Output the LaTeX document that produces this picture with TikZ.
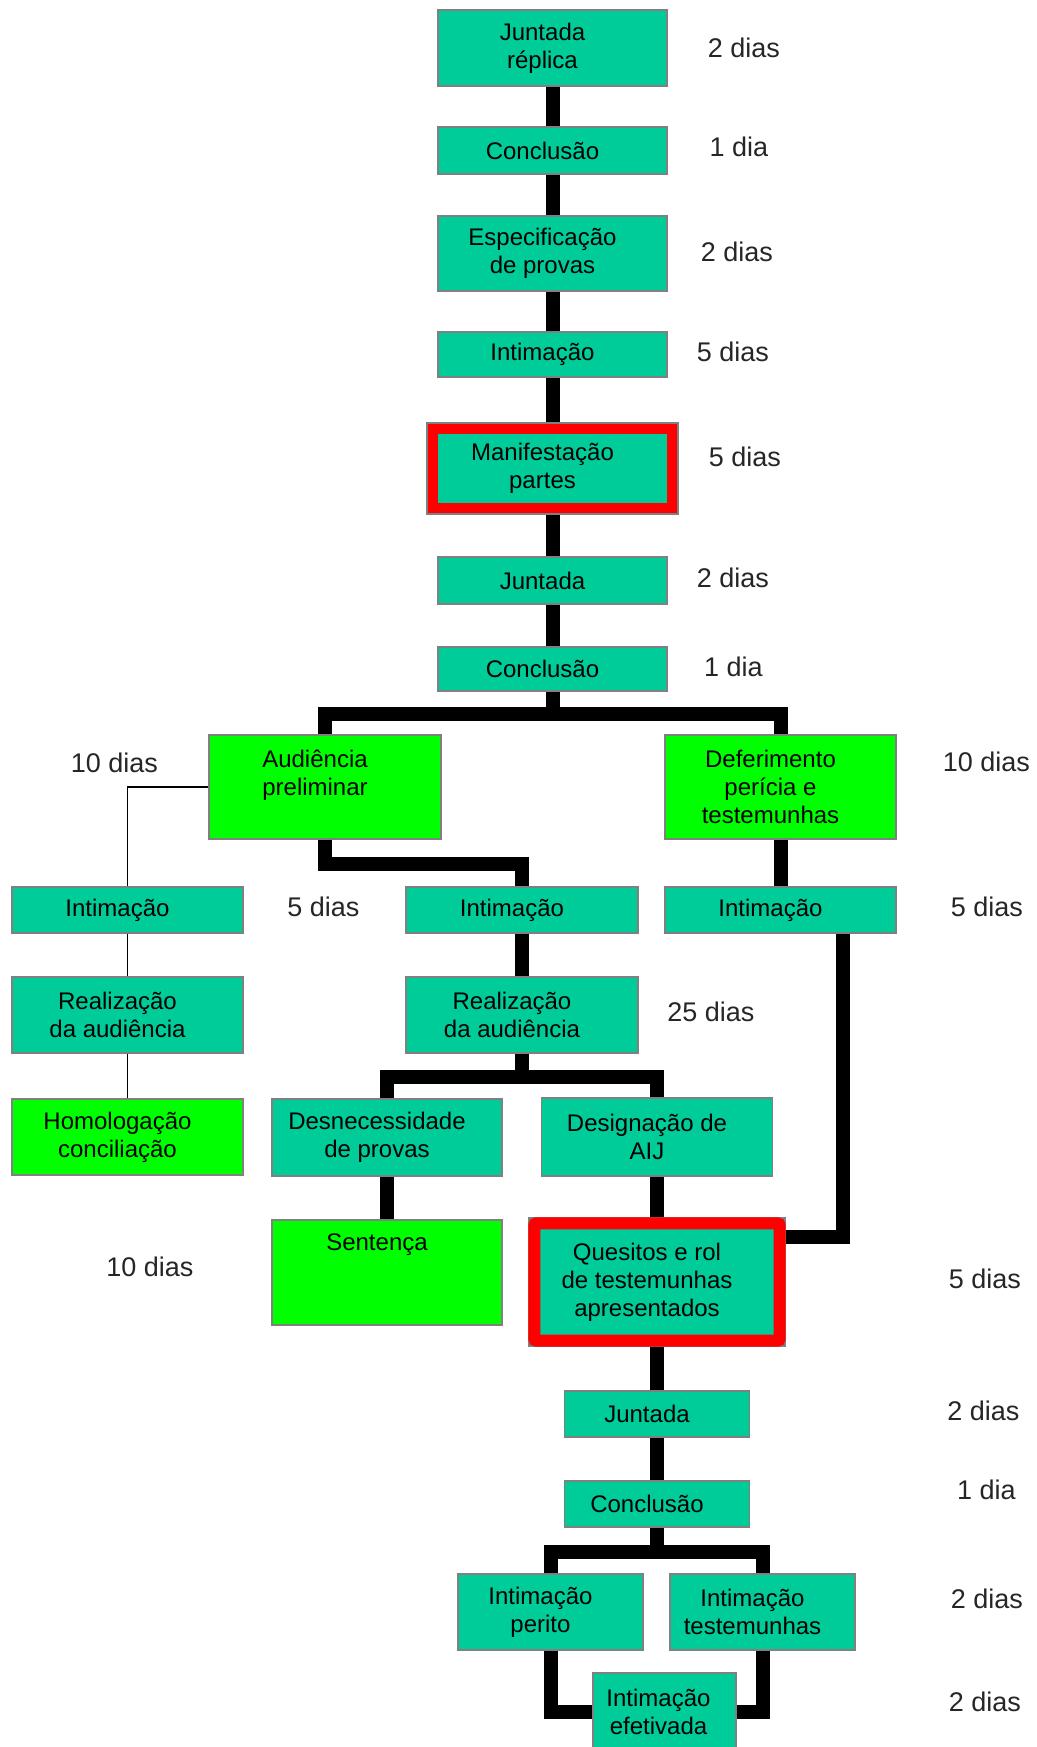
\documentclass[tikz,border=0pt]{standalone}
\usepackage{fontspec}
\setmainfont{Liberation Sans}
\usetikzlibrary{calc}
\definecolor{boxteal}{HTML}{00CC99}
\definecolor{boxgreen}{HTML}{00FF00}
\definecolor{boxline}{HTML}{808080}
\begin{document}
\begin{tikzpicture}[x=0.5pt, y=-0.5pt,
    tealbox/.style={draw=boxline, line width=0.6pt, fill=boxteal, inner sep=0pt},
    greenbox/.style={tealbox, fill=boxgreen},
    boxtext/.style={font=\fontsize{12}{14}\selectfont, align=center, xshift=-5pt},
    dias/.style={font=\fontsize{13.5}{15}\selectfont, text=black!85},
    wire/.style={line width=7pt},
    thinwire/.style={line width=0.8pt},
    redframe/.style={draw=red, line width=5pt}]
	\useasboundingbox (0,0) rectangle (1037,1747);

	% main column
	\node[tealbox, minimum width=114.5pt, minimum height=38pt, label={[boxtext]center:Juntada\\réplica}] (jrep) at (552.5,48) {};
	\node[tealbox, minimum width=114.5pt, minimum height=23.5pt, label={[boxtext]center:Conclusão}] (conc1) at (552.5,150.5) {};
	\node[tealbox, minimum width=114.5pt, minimum height=37.5pt, label={[boxtext]center:Especificação\\de provas}] (espec) at (552.5,253.5) {};
	\node[tealbox, minimum width=114.5pt, minimum height=22.5pt, label={[boxtext]center:Intimação}] (intim1) at (552.5,354.5) {};
	\node[tealbox, minimum width=125.5pt, minimum height=45.5pt, label={[boxtext]center:Manifestação\\partes}] (manif) at (552.5,468.5) {};
	\node[tealbox, minimum width=114.5pt, minimum height=23.5pt, label={[boxtext]center:Juntada}] (jun2) at (552.5,580.5) {};
	\node[tealbox, minimum width=114.5pt, minimum height=22pt, label={[boxtext]center:Conclusão}] (conc2) at (552.5,669) {};

	% branches
	\node[greenbox, minimum width=116pt, minimum height=52pt, label={[boxtext, yshift=6pt]center:Audiência\\preliminar}] (aud) at (325,787) {};
	\node[greenbox, minimum width=115.5pt, minimum height=52pt, label={[boxtext]center:Deferimento\\perícia e\\testemunhas}] (def) at (780.5,787) {};
	\node[tealbox, minimum width=115.5pt, minimum height=23pt, label={[boxtext]center:Intimação}] (intL) at (127.5,910) {};
	\node[tealbox, minimum width=116pt, minimum height=23pt, label={[boxtext]center:Intimação}] (intM) at (522,910) {};
	\node[tealbox, minimum width=115.5pt, minimum height=23pt, label={[boxtext]center:Intimação}] (intR) at (780.5,910) {};
	\node[tealbox, minimum width=115.5pt, minimum height=38pt, label={[boxtext]center:Realização\\da audiência}] (realL) at (127.5,1015) {};
	\node[tealbox, minimum width=116pt, minimum height=38pt, label={[boxtext]center:Realização\\da audiência}] (realM) at (522,1015) {};
	\node[greenbox, minimum width=115.5pt, minimum height=38pt, label={[boxtext]center:Homologação\\conciliação}] (homol) at (127.5,1137) {};
	\node[tealbox, minimum width=115pt, minimum height=38.5pt, label={[boxtext]center:Desnecessidade\\de provas}] (desn) at (387,1137.5) {};
	\node[tealbox, minimum width=115.5pt, minimum height=39pt, label={[boxtext]center:Designação de\\AIJ}] (desig) at (657,1137) {};
	\node[greenbox, minimum width=115pt, minimum height=52.5pt, label={[boxtext, yshift=13.75pt]center:Sentença}] (sent) at (387,1272.5) {};
	\node[tealbox, minimum width=128pt, minimum height=64pt, label={[boxtext]center:Quesitos e rol\\de testemunhas\\apresentados}] (quest) at (657,1282) {};
	\node[tealbox, minimum width=92.5pt, minimum height=23pt, label={[boxtext]center:Juntada}] (jun3) at (657,1414) {};
	\node[tealbox, minimum width=92.5pt, minimum height=23pt, label={[boxtext]center:Conclusão}] (conc3) at (657,1504) {};
	\node[tealbox, minimum width=92.5pt, minimum height=38pt, label={[boxtext]center:Intimação\\perito}] (intPer) at (550.5,1612) {};
	\node[tealbox, minimum width=92.5pt, minimum height=38pt, label={[boxtext]center:Intimação\\testemunhas}] (intTes) at (762.5,1612) {};
	\node[tealbox, minimum width=71.5pt, minimum height=38.5pt, label={[boxtext, xshift=2pt]center:Intimação\\efetivada}] (intEf) at (664.5,1711.5) {};

	% red marks
	\draw[redframe] ($(manif.north west)+(7,7)$) rectangle ($(manif.south east)+(-7,-7)$);
	\draw[redframe, line width=6pt, rounded corners=1pt] ($(quest.north west)+(6,6)$) rectangle ($(quest.south east)+(-6,-6)$);

	% connectors
	\path[wire]
		(jrep) edge (conc1)
		(conc1) edge (espec)
		(espec) edge (intim1)
		(intim1) edge (manif)
		(manif) edge (jun2)
		(jun2) edge (conc2);
	\coordinate (split1) at (552.5,714);
	\draw[wire] (conc2) -- (split1);
	\draw[wire] (aud.north) |- (split1) -| (def.north);
	\coordinate (k1) at (522,864);
	\draw[wire] (aud.south) |- (k1) -- (intM);
	\draw[thinwire] (aud.west) -| (intL.north);
	\path[thinwire]
		(intL) edge (realL)
		(realL) edge (homol);
	\path[wire]
		(def) edge (intR)
		(intM) edge (realM)
		(desn) edge (sent)
		(desig) edge (quest)
		(quest) edge (jun3)
		(jun3) edge (conc3);
	\coordinate (split2) at (522,1077);
	\draw[wire] (realM) -- (split2);
	\draw[wire] (desn.north) |- (split2) -| (desig.north);
	\coordinate (k2) at (843,1237);
	\draw[wire] (intR.south -| k2) -- (k2) -- (k2 -| quest.east);
	\coordinate (split3) at (657,1552);
	\draw[wire] (conc3) -- (split3);
	\draw[wire] (intPer.north) |- (split3) -| (intTes.north);
	\draw[wire] (intPer.south) |- (intEf.west);
	\draw[wire] (intTes.south) |- (intEf.east);

	% durations
	\node[dias] (t1) at (744,48) {2 dias};
	\node[dias] (t2) at (739,147) {1 dia};
	\node[dias] (t3) at (737,252) {2 dias};
	\node[dias] (t4) at (733,352) {5 dias};
	\node[dias] (t5) at (745,457) {5 dias};
	\node[dias] (t6) at (733,578) {2 dias};
	\node[dias] (t7) at (733.5,667) {1 dia};
	\node[dias] (t8) at (114.5,763) {10 dias};
	\node[dias] (t9) at (986.5,762) {10 dias};
	\node[dias] (t10) at (323.5,907) {5 dias};
	\node[dias] (t11) at (987,907) {5 dias};
	\node[dias] (t12) at (711,1012) {25 dias};
	\node[dias] (t13) at (150,1267) {10 dias};
	\node[dias] (t14) at (985,1279) {5 dias};
	\node[dias] (t15) at (983.5,1411) {2 dias};
	\node[dias] (t16) at (986.5,1490) {1 dia};
	\node[dias] (t17) at (987,1599) {2 dias};
	\node[dias] (t18) at (985,1702) {2 dias};
\end{tikzpicture}
\end{document}
